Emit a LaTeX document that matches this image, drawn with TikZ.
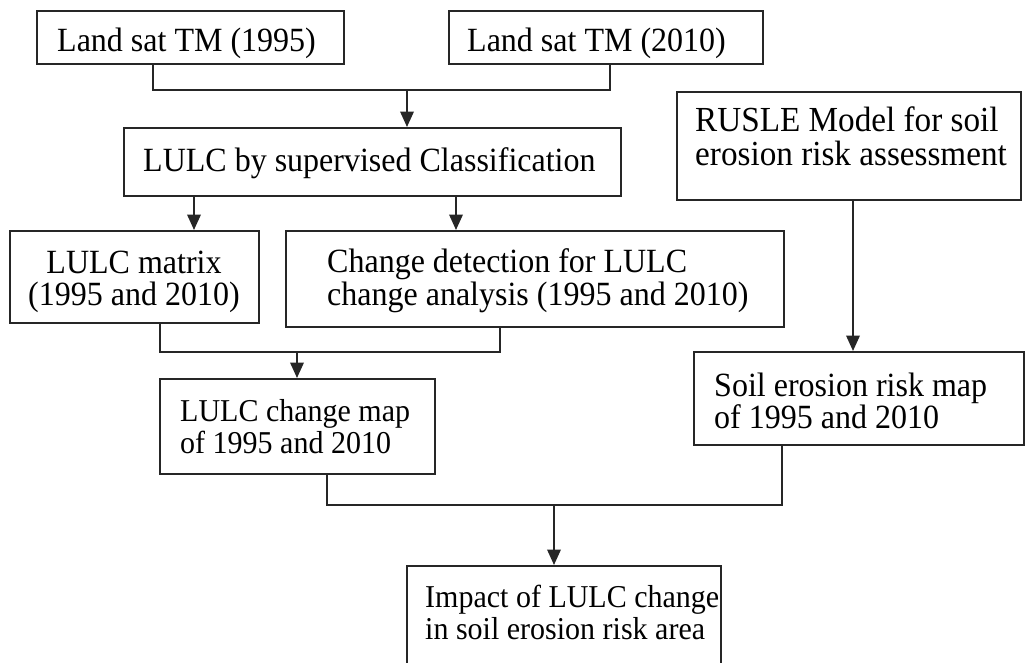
\documentclass[tikz,border=0pt]{standalone}
\usepackage{graphicx}
\usepackage{fontspec}
\setmainfont{Liberation Serif}
\usetikzlibrary{arrows.meta}
% text set slightly taller than wide
\newcommand\tall[1]{\scalebox{1}[1.06]{#1}}
\begin{document}
\begin{tikzpicture}[x=1pt,y=-1pt,
  box/.style={draw=black!85, line width=1.5pt, anchor=north west, inner sep=0pt, fill=none},
  txt/.style={anchor=base west, inner sep=0pt, font=\fontsize{32}{32}\selectfont},
  ctxt/.style={txt, anchor=base},
  smalltxt/.style={txt, font=\fontsize{30}{30}\selectfont},
  bigtxt/.style={txt, font=\fontsize{33.2}{33}\selectfont},
  link/.style={draw=black!85, line width=2pt},
  arr/.style={link, -{Triangle[width=13.5pt,length=15.5pt]}}]
\useasboundingbox (0,0) rectangle (1033,662);
\clip (0,0) rectangle (1033,662);

% boxes
\node[box, minimum width=307pt, minimum height=53pt] (b1) at (36,10) {};
\node[box, minimum width=314pt, minimum height=53pt] (b2) at (448,10) {};
\node[box, minimum width=497pt, minimum height=68pt] (cls) at (123,127) {};
\node[box, minimum width=344pt, minimum height=108pt] (rusle) at (676,91) {};
\node[box, minimum width=249pt, minimum height=92pt] (mat) at (9,230) {};
\node[box, minimum width=498pt, minimum height=96pt] (cd) at (285,230) {};
\node[box, minimum width=275pt, minimum height=95pt] (map) at (159,378) {};
\node[box, minimum width=330pt, minimum height=93pt] (soil) at (693,351) {};
\node[box, minimum width=314pt, minimum height=120pt] (imp) at (406,565) {};

% texts
\node[txt] (t1) at (57,51) {\tall{Land sat TM (1995)}};
\node[txt] (t2) at (467,51) {\tall{Land sat TM (2010)}};
\node[txt] (t3) at (143,171) {\tall{LULC by supervised Classification}};
\node[bigtxt] (t4a) at (695,131) {\tall{RUSLE Model for soil}};
\node[bigtxt] (t4b) at (695,165) {\tall{erosion risk assessment}};
\node[ctxt] (t5a) at (134,273) {\tall{LULC matrix}};
\node[ctxt] (t5b) at (134,305) {\tall{(1995 and 2010)}};
\node[txt] (t6a) at (327,272) {\tall{Change detection for LULC}};
\node[txt] (t6b) at (327,305) {\tall{change analysis (1995 and 2010)}};
\node[smalltxt] (t7a) at (180,421) {\tall{LULC change map}};
\node[smalltxt] (t7b) at (180,453) {\tall{of 1995 and 2010}};
\node[txt] (t8a) at (714,396) {\tall{Soil erosion risk map}};
\node[txt] (t8b) at (714,428) {\tall{of 1995 and 2010}};
\node[smalltxt] (t9a) at (425,607) {\tall{Impact of LULC change}};
\node[smalltxt] (t9b) at (425,639) {\tall{in soil erosion risk area}};

% junction points
\coordinate (j1) at (153,90);
\coordinate (j2) at (610,90);
\coordinate (j3) at (407,90);
\coordinate (k1) at (194,0);
\coordinate (k2) at (456,0);
\coordinate (m1) at (160,352);
\coordinate (m2) at (500,352);
\coordinate (m3) at (297,352);
\coordinate (r1) at (853,0);
\coordinate (n1) at (327,505);
\coordinate (n2) at (782,505);
\coordinate (n3) at (554,505);

% connectors
\draw[link] (j1 |- b1.south) -- (j1) -- (j2) -- (j2 |- b2.south);
\draw[arr] (j3) -- (j3 |- cls.north);
\draw[arr] (k1 |- cls.south) -- (k1 |- mat.north);
\draw[arr] (k2 |- cls.south) -- (k2 |- cd.north);
\draw[link] (m1 |- mat.south) -- (m1) -- (m2) -- (m2 |- cd.south);
\draw[arr] (m3) -- (m3 |- map.north);
\draw[arr] (r1 |- rusle.south) -- (r1 |- soil.north);
\draw[link] (n1 |- map.south) -- (n1) -- (n2) -- (n2 |- soil.south);
\draw[arr] (n3) -- (n3 |- imp.north);
\end{tikzpicture}
\end{document}
